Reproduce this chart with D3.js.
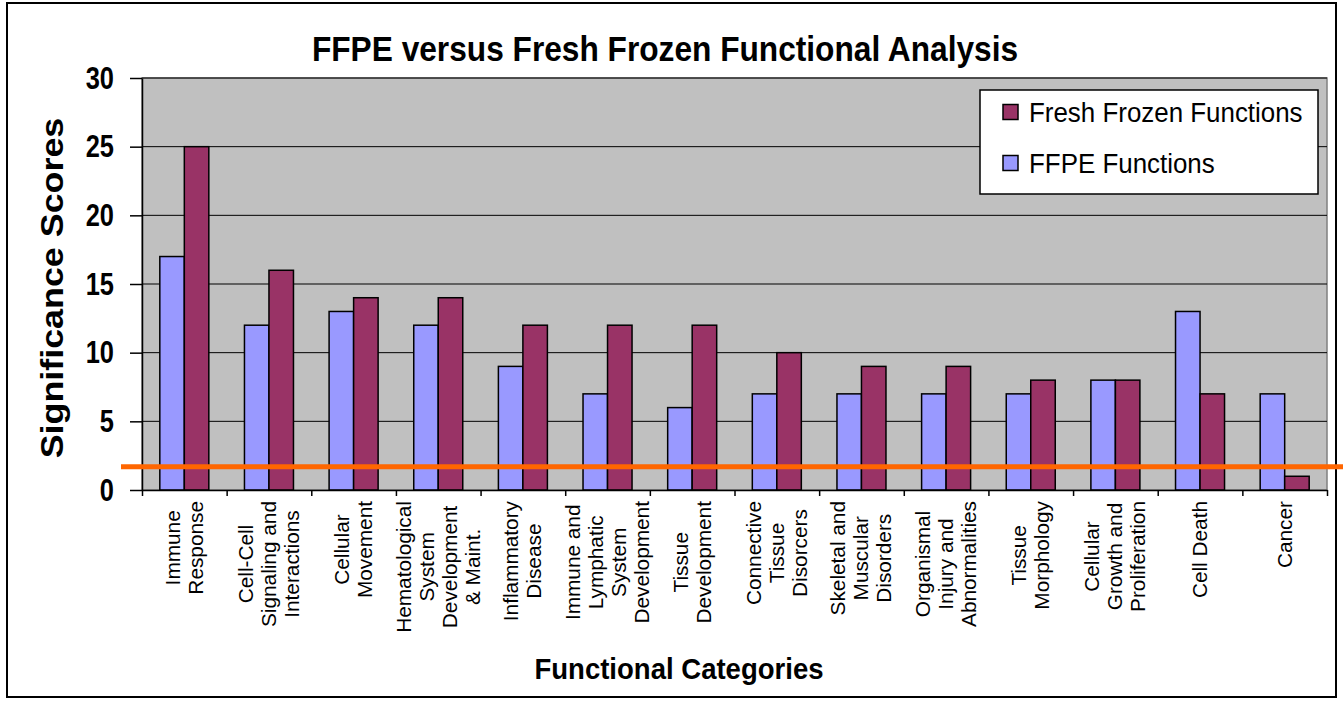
<html>
<head>
  <title>FFPE versus Fresh Frozen</title>
  <script src="https://d3js.org/d3.v7.min.js"></script>
  <meta http-equiv="content-type" content="text/html;charset=UTF-8">
  <style>
    body { margin: 0; background: #fff; }
    svg { display: block; font-family: "Liberation Sans", Arial, sans-serif; }
  </style>
</head>
<body>
  <svg id="chart"></svg>
  <script>
    // data
    var categories = [
      ["Immune", "Response"],
      ["Cell-Cell", "Signaling and", "Interactions"],
      ["Cellular", "Movement"],
      ["Hematological", "System", "Development", "& Maint."],
      ["Inflammatory", "Disease"],
      ["Immune and", "Lymphatic", "System", "Development"],
      ["Tissue", "Development"],
      ["Connective", "Tissue", "Disorcers"],
      ["Skeletal and", "Muscular", "Disorders"],
      ["Organismal", "Injury and", "Abnormalities"],
      ["Tissue", "Morphology"],
      ["Cellular", "Growth and", "Proliferation"],
      ["Cell Death"],
      ["Cancer"]
    ];
    var ffpe = [17, 12, 13, 12, 9, 7, 6, 7, 7, 7, 7, 8, 13, 7];
    var fresh = [25, 16, 14, 14, 12, 12, 12, 10, 9, 9, 8, 8, 7, 1];
    var seriesNames = ["FFPE Functions", "Fresh Frozen Functions"];
    var seriesColors = ["#9999ff", "#993366"];
    var yTicks = [0, 5, 10, 15, 20, 25, 30];
    var threshold = 1.7;

    var width = 1343, height = 702;
    var plotL = 142, plotR = 1327, plotT = 78, plotB = 490;

    var svg = d3.select('#chart')
      .attr('width', width)
      .attr('height', height);

    // outer frame
    svg.append('rect')
      .attr('x', 7).attr('y', 3)
      .attr('width', 1329).attr('height', 694)
      .attr('fill', 'none')
      .attr('stroke', '#000')
      .attr('stroke-width', 2);

    var x0 = d3.scaleBand()
      .domain(d3.range(categories.length))
      .range([plotL, plotR])
      .padding(0);
    var x1 = d3.scaleBand()
      .domain([0, 1])
      .range([0, x0.bandwidth()])
      .paddingInner(0)
      .paddingOuter(0.727);
    var y = d3.scaleLinear()
      .domain([0, 30])
      .range([plotB, plotT]);

    // plot area
    svg.append('rect')
      .attr('x', plotL).attr('y', plotT)
      .attr('width', plotR - plotL).attr('height', plotB - plotT)
      .attr('fill', '#c0c0c0')
      .attr('stroke', '#808080')
      .attr('stroke-width', 1.5);

    svg.append('g')
      .selectAll('line')
      .data(yTicks.slice(1))
      .enter()
      .append('line')
      .attr('x1', plotL).attr('x2', plotR)
      .attr('y1', d => y(d)).attr('y2', d => y(d))
      .attr('stroke', '#000')
      .attr('stroke-width', 1);

    // bars
    var rows = categories.map((c, i) => [ffpe[i], fresh[i]]);
    svg.append('g')
      .selectAll('g')
      .data(rows)
      .enter()
      .append('g')
      .attr('transform', (d, i) => 'translate(' + x0(i) + ',0)')
      .selectAll('rect')
      .data(d => d)
      .enter()
      .append('rect')
      .attr('x', (d, j) => x1(j))
      .attr('width', x1.bandwidth())
      .attr('y', d => y(d))
      .attr('height', d => y(0) - y(d))
      .attr('fill', (d, j) => seriesColors[j])
      .attr('stroke', '#000')
      .attr('stroke-width', 1.5);

    // axes
    var yAxis = svg.append('g')
      .attr('transform', 'translate(' + plotL + ',0)')
      .call(d3.axisLeft(y).tickValues(yTicks).tickSize(12).tickSizeOuter(0));
    yAxis.select('.domain').attr('stroke', '#000').attr('stroke-width', 1.5);
    yAxis.selectAll('line').attr('stroke', '#000').attr('stroke-width', 1.5);
    yAxis.selectAll('text')
      .attr('x', null)
      .attr('dy', '0.36em')
      .attr('transform', 'translate(-28,-1) scale(0.82,1)')
      .attr('font-size', 31)
      .attr('font-weight', 'bold')
      .attr('font-family', '"Liberation Sans", Arial, sans-serif')
      .attr('fill', '#000');

    var xLin = d3.scaleLinear().domain([0, categories.length]).range([plotL, plotR]);
    var xAxis = svg.append('g')
      .attr('transform', 'translate(0,' + plotB + ')')
      .call(d3.axisBottom(xLin).ticks(categories.length).tickSize(6).tickSizeOuter(0).tickFormat(''));
    xAxis.select('.domain').attr('stroke', '#000').attr('stroke-width', 1.5);
    xAxis.selectAll('line').attr('stroke', '#000').attr('stroke-width', 1.5);

    // category labels, rotated
    var lineGap = 23;
    var labels = svg.append('g')
      .attr('font-size', 20)
      .attr('fill', '#000');
    categories.forEach(function (lines, i) {
      var cx = x0(i) + x0.bandwidth() / 2;
      var grp = labels.append('g');
      var texts = grp.selectAll('text')
        .data(lines)
        .enter()
        .append('text')
        .attr('text-anchor', 'middle')
        .text(d => d);
      var maxLen = d3.max(texts.nodes(), n => n.getComputedTextLength()) * 1.04;
      var cy = 501 + maxLen / 2;
      texts.attr('transform', function (d, k) {
        var bx = cx + (k - (lines.length - 1) / 2) * lineGap + 7;
        return 'translate(' + bx + ',' + cy + ') rotate(-90) scale(1.04,1)';
      });
    });

    // threshold line
    svg.append('line')
      .attr('x1', 121).attr('x2', width)
      .attr('y1', y(threshold)).attr('y2', y(threshold))
      .attr('stroke', '#ff6600')
      .attr('stroke-width', 5);

    // legend
    var legend = svg.append('g');
    legend.append('rect')
      .attr('x', 980).attr('y', 90)
      .attr('width', 338).attr('height', 104)
      .attr('fill', '#fff')
      .attr('stroke', '#000')
      .attr('stroke-width', 1.5);
    var legendRows = [1, 0];
    legendRows.forEach(function (s, k) {
      var cy = 112 + k * 51;
      legend.append('rect')
        .attr('x', 1003).attr('y', cy - 7.5)
        .attr('width', 15).attr('height', 15)
        .attr('fill', seriesColors[s])
        .attr('stroke', '#000')
        .attr('stroke-width', 1.5);
      legend.append('text')
        .attr('transform', 'translate(1029,' + (cy + 10) + ') scale(0.96,1)')
        .attr('font-size', 27)
        .text(seriesNames[s]);
    });

    // titles
    svg.append('text')
      .attr('transform', 'translate(665,61) scale(0.88,1)')
      .attr('text-anchor', 'middle')
      .attr('font-size', 36)
      .attr('font-weight', 'bold')
      .text('FFPE versus Fresh Frozen Functional Analysis');

    svg.append('text')
      .attr('transform', 'translate(679,679) scale(0.95,1)')
      .attr('text-anchor', 'middle')
      .attr('font-size', 29)
      .attr('font-weight', 'bold')
      .text('Functional Categories');

    svg.append('text')
      .attr('transform', 'translate(63,288) rotate(-90) scale(1.12,1)')
      .attr('text-anchor', 'middle')
      .attr('font-size', 32)
      .attr('font-weight', 'bold')
      .text('Significance Scores');
  </script>
</body>
</html>
